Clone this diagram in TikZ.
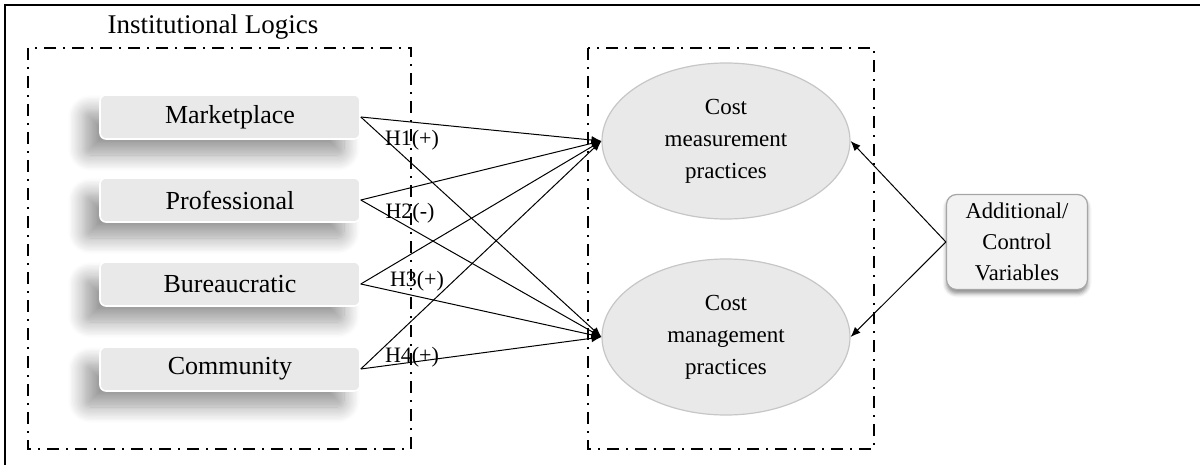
\documentclass[tikz,border=0pt]{standalone}
\usepackage{fontspec}
\setmainfont{Liberation Serif}
\usetikzlibrary{shapes.geometric,shadows.blur,arrows.meta}
\begin{document}
\begin{tikzpicture}[x=0.5pt,y=-0.5pt,
  every node/.style={font=\fontsize{13}{16}\selectfont},
  logic/.style={rectangle, rounded corners=3pt, fill=gray!17, draw=white, line width=0.8pt,
    minimum width=130pt, minimum height=22pt, inner sep=0pt,
    blur shadow={shadow xshift=-8pt, shadow yshift=-8pt, shadow blur radius=8pt, shadow blur steps=12, shadow opacity=40}},
  outcome/.style={ellipse, fill=gray!17, draw=gray!45, line width=0.6pt,
    minimum width=124pt, minimum height=78pt, inner sep=0pt, align=center,
    font=\fontsize{11.5}{16}\selectfont},
  ctrl/.style={rectangle, rounded corners=5pt, fill=gray!10, draw=gray!70, line width=0.6pt,
    minimum width=70.5pt, minimum height=47.5pt, inner sep=0pt, align=center,
    font=\fontsize{11.3}{15.5}\selectfont,
    blur shadow={shadow xshift=0pt, shadow yshift=-2pt, shadow blur radius=2pt, shadow opacity=45}},
  grp/.style={draw=black, line width=1.4pt, dash pattern=on 6pt off 3.5pt on 1pt off 3.5pt},
  arr/.style={draw=black, line width=0.5pt, -{Latex[length=5pt,width=4pt]}},
  hlab/.style={font=\fontsize{11}{13}\selectfont, inner sep=0pt}
]
\useasboundingbox (0,0) rectangle (1200,465);
\draw[line width=1pt] (5,465) -- (5,5) -- (1200,5);

\draw[grp] (28,48) rectangle (411,449);
\draw[grp] (588,48) rectangle (874,449);
\node[font=\fontsize{13.5}{16}\selectfont] (title) at (213,27) {Institutional Logics};

\node[logic] (m) at (230,117) {Marketplace};
\node[logic] (p) at (230,200) {Professional};
\node[logic] (b) at (230,284) {Bureaucratic};
\node[logic] (c) at (230,369) {Community};

\node[outcome] (cm) at (726,141) {Cost\\measurement\\practices};
\node[outcome] (cg) at (726,337) {Cost\\management\\practices};

\node[ctrl] (add) at (1017,242) {Additional/\\Control\\Variables};

\foreach \s in {m,p,b,c}{
  \draw[arr] (\s.east) -- (cm.west);
  \draw[arr] (\s.east) -- (cg.west);
}
\draw[arr] (add.west) -- (cm.east);
\draw[arr] (add.west) -- (cg.east);

\node[hlab] (h1) at (412,140) {H1(+)};
\node[hlab] (h2) at (410,213) {H2(-)};
\node[hlab] (h3) at (417,281) {H3(+)};
\node[hlab] (h4) at (412,357) {H4(+)};
\end{tikzpicture}
\end{document}
